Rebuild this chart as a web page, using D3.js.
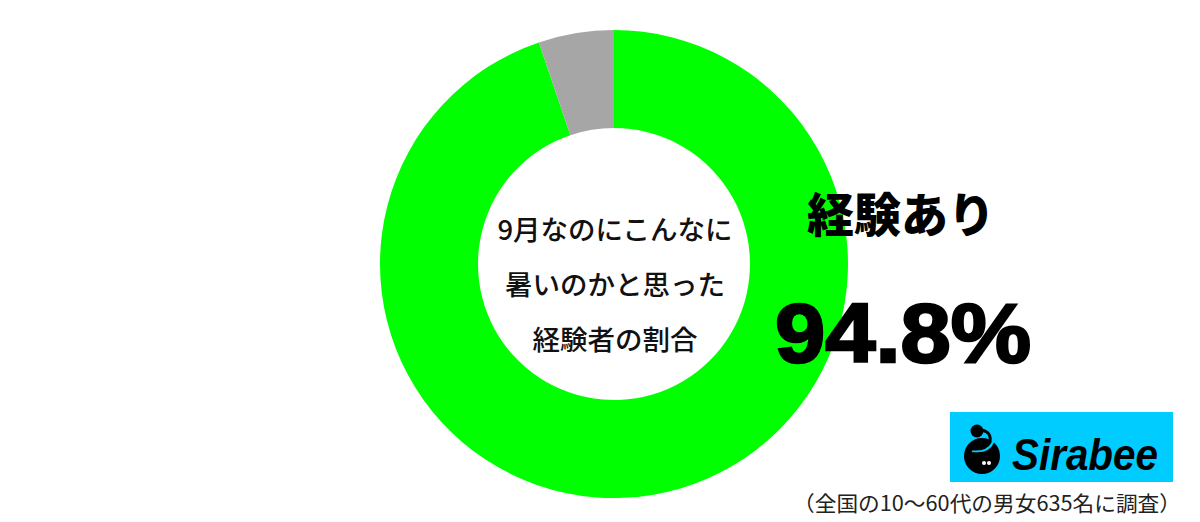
<!DOCTYPE html>
<html><head><meta charset="utf-8">
<script src="https://cdn.jsdelivr.net/npm/d3@7"></script>
<style>html,body{margin:0;padding:0;background:#fff;}svg{display:block;}</style>
</head><body>
<svg id="c" width="1200" height="522"></svg>
<script>
const categories = ["経験あり", "経験なし"];
const values = [94.8, 5.2];
const colors = ["#00ff00", "#a6a6a6"];
const centerLines = ["9月なのにこんなに", "暑いのかと思った", "経験者の割合"];
const labelText = "経験あり";
const valueText = "94.8%";
const noteText = "（全国の10〜60代の男女635名に調査）";

const svg = d3.select("#c");
const cx = 614, cy = 264, rOut = 234, rIn = 136;
const cjk = "'Noto Sans CJK JP', 'Noto Sans', sans-serif";

const pie = d3.pie().sort(null).value(d => d.v);
const arc = d3.arc().innerRadius(rIn).outerRadius(rOut);
const data = categories.map((c, i) => ({c, v: values[i], col: colors[i]}));
svg.append("g").attr("transform", `translate(${cx},${cy})`)
  .selectAll("path").data(pie(data)).join("path")
  .attr("d", arc).attr("fill", d => d.data.col);

const ct = svg.append("g").attr("font-family", cjk).attr("font-size", 27.5)
  .attr("font-weight", 500).attr("fill", "#111").attr("text-anchor", "middle");
const lineY = [230, 285, 340];
centerLines.forEach((t, i) => {
  ct.append("text").attr("x", cx + 1).attr("y", lineY[i]).attr("dy", "0.36em").text(t);
});

svg.append("text").attr("x", 901).attr("y", 215).attr("dy", "0.36em")
  .attr("text-anchor", "middle").attr("font-family", cjk).attr("font-weight", 900)
  .attr("font-size", 47).attr("fill", "#000").text(labelText);

svg.append("text").attr("x", 903).attr("y", 362)
  .attr("text-anchor", "middle").attr("font-family", "'Liberation Sans', Arial, sans-serif")
  .attr("font-weight", 700).attr("font-size", 84).attr("fill", "#000")
  .attr("stroke", "#000").attr("stroke-width", 2.5)
  .attr("textLength", 256).attr("lengthAdjust", "spacingAndGlyphs").text(valueText);

// logo
const lg = svg.append("g");
lg.append("rect").attr("x", 950).attr("y", 412).attr("width", 223).attr("height", 70).attr("fill", "#00ccff");
lg.append("circle").attr("cx", 982).attr("cy", 456).attr("r", 18).attr("fill", "#000");
lg.append("path").attr("d", "M 978 430 Q 994 428 992 442 Q 988 452 972 450")
  .attr("fill", "none").attr("stroke", "#00ccff").attr("stroke-width", 4);
lg.append("path").attr("d", "M 978 430 Q 992 430 990 442 Q 986 450 972 449")
  .attr("fill", "none").attr("stroke", "#000").attr("stroke-width", 3);
lg.append("circle").attr("cx", 977).attr("cy", 431).attr("r", 6.5).attr("fill", "#000");
lg.append("circle").attr("cx", 984).attr("cy", 463).attr("r", 2).attr("fill", "#fff");
lg.append("circle").attr("cx", 989).attr("cy", 463).attr("r", 2).attr("fill", "#fff");
lg.append("text").attr("x", 1012).attr("y", 470).attr("font-family", "'Liberation Sans', Arial, sans-serif")
  .attr("font-weight", 700).attr("font-style", "italic").attr("font-size", 44).attr("fill", "#000")
  .attr("textLength", 146).attr("lengthAdjust", "spacingAndGlyphs").text("Sirabee");

svg.append("text").attr("x", 1181).attr("y", 503).attr("dy", "0.36em").attr("text-anchor", "end")
  .attr("font-family", cjk).attr("font-size", 21).attr("fill", "#222")
  .attr("textLength", 388).attr("lengthAdjust", "spacingAndGlyphs").text(noteText);
</script>
</body></html>
